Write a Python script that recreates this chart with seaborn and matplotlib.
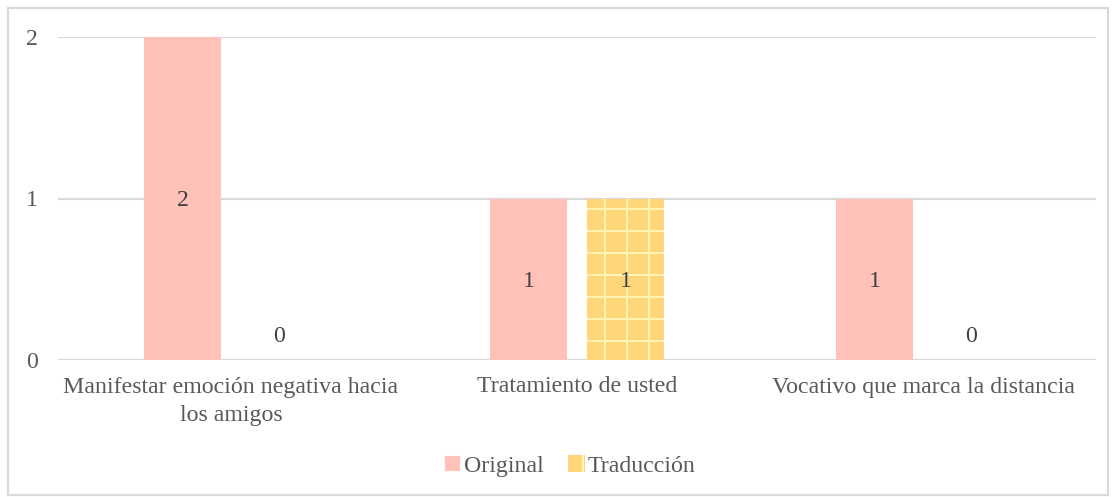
import matplotlib
matplotlib.use("Agg")
import matplotlib.pyplot as plt
import matplotlib.patches as mpatches
import seaborn as sns
import pandas as pd

categories = ["Manifestar emoción negativa hacia\nlos amigos",
              "Tratamiento de usted",
              "Vocativo que marca la distancia"]
original = [2, 1, 1]
traduccion = [0, 1, 0]
series = ["Original", "Traducción"]
yticks = [0, 1, 2]

df = pd.DataFrame({
    "categoria": categories * 2,
    "serie": [series[0]] * 3 + [series[1]] * 3,
    "valor": original + traduccion,
})

sns.set_theme(style="white")
plt.rcParams["font.family"] = ["Liberation Serif", "DejaVu Serif"]
plt.rcParams["hatch.linewidth"] = 1.1
plt.rcParams["hatch.color"] = "#FFF3B5"

FS = 13
DPI = 132
fig = plt.figure(figsize=(1116 / DPI, 497 / DPI), dpi=DPI)
ax = fig.add_axes([58 / 1116, 1 - 360 / 497, 1038 / 1116, 323 / 497])

colors = {"Original": "#FFC1B8", "Traducción": "#FFD57A"}
sns.barplot(data=df, x="categoria", y="valor", hue="serie", order=categories,
            hue_order=series, palette=colors, width=0.56, gap=0.2,
            ax=ax, legend=False, saturation=1, linewidth=0)

# grid-pattern fill for the translation bars
n = len(categories)
for i, patch in enumerate(ax.patches):
    if i >= n:
        patch.set_hatch("+")
        patch.set_edgecolor("#FFF3B5")
        patch.set_linewidth(0)

# value labels
for patch, v in zip(ax.patches, original + traduccion):
    x = patch.get_x() + patch.get_width() / 2
    if v > 0:
        ax.annotate(str(v), (x, v / 2), xytext=(0, -2), textcoords="offset pixels",
                    ha="center", va="center", fontsize=FS, color="#404040")
    else:
        ax.annotate(str(v), (x, 0), xytext=(0, 24), textcoords="offset pixels",
                    ha="center", va="center", fontsize=FS, color="#404040")

ax.set_ylim(0, 2)
ax.set_yticks(yticks)
ax.set_yticklabels([str(t) for t in yticks])
ax.set_xlim(-0.5, n - 0.5)
ax.yaxis.grid(True, color="#D9D9D9", linewidth=1.2)
ax.set_axisbelow(True)
for s in ax.spines.values():
    s.set_visible(False)
ax.tick_params(axis="y", length=0, pad=11, labelsize=FS, labelcolor="#595959")
ax.tick_params(axis="x", length=0, pad=9, labelsize=FS, labelcolor="#595959")
for lbl in ax.get_xticklabels():
    lbl.set_linespacing(1.5)
ax.set_xlabel("")
ax.set_ylabel("")

handles = [mpatches.Patch(facecolor=colors["Original"], label="Original"),
           mpatches.Patch(facecolor=colors["Traducción"], hatch="|",
                          edgecolor="#FFF3B5", linewidth=0, label="Traducción")]
fig.legend(handles=handles, loc="center", bbox_to_anchor=(570 / 1116, 1 - 466 / 497),
           ncol=2, frameon=False, fontsize=FS, handlelength=0.7, handleheight=0.7,
           handletextpad=0.15, columnspacing=1.0, labelcolor="#595959")

# outer chart border
fig.patches.append(mpatches.Rectangle((8 / 1116, 2 / 497), 1100 / 1116, 487 / 497,
                                      transform=fig.transFigure, fill=False,
                                      edgecolor="#D9D9D9", linewidth=1.2))

fig.savefig("out.png", dpi=DPI)
